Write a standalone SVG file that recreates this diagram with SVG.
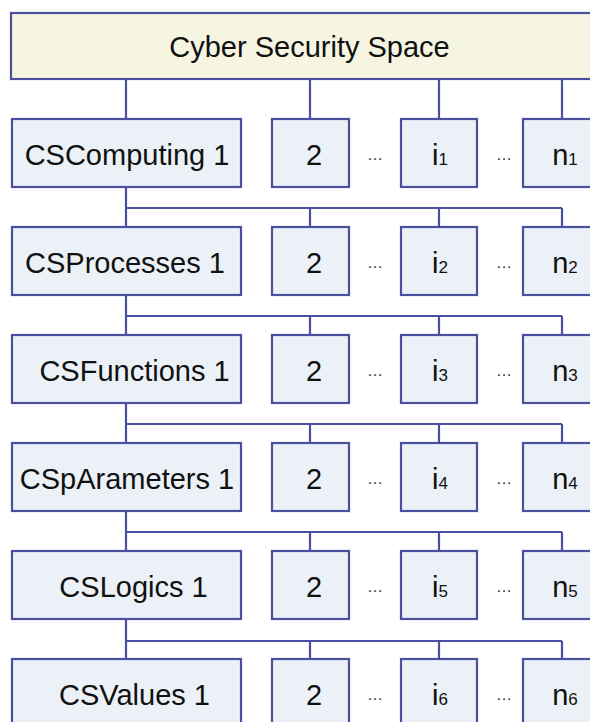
<svg xmlns="http://www.w3.org/2000/svg" width="590" height="722" viewBox="0 0 590 722">
<style>
.box{fill:#EBF1F6;stroke:#4B4F9F;stroke-width:2.2}
.title{fill:#F5F5E2;stroke:#4B4F9F;stroke-width:2.2}
.t{font-family:"Liberation Sans",Arial,sans-serif;font-size:29px;fill:#111;text-anchor:middle}
.s{font-size:17px}
.d{font-family:"Liberation Sans",Arial,sans-serif;font-size:16px;fill:#333;text-anchor:middle}
.c{fill:none;stroke:#4B4F9F;stroke-width:2.2}
</style>
<rect width="590" height="722" fill="#fff"/>
<g id="connectors">
<path class="c" d="M126,79V119M310,79V119M439,79V119M562,79V119"/>
<path class="c" d="M126,187V227M126,208H562M310,208V227M439,208V227M562,208V227"/>
<path class="c" d="M126,295V335M126,316H562M310,316V335M439,316V335M562,316V335"/>
<path class="c" d="M126,403V443M126,424H562M310,424V443M439,424V443M562,424V443"/>
<path class="c" d="M126,511V551M126,532H562M310,532V551M439,532V551M562,532V551"/>
<path class="c" d="M126,619V659M126,641H562M310,641V659M439,641V659M562,641V659"/>
</g>
<g id="space"><rect class="title" x="11" y="13" width="600" height="66"/><text class="t" x="309.5" y="57">Cyber Security Space</text></g>

<g id="r1c1"><rect class="box" x="12" y="119" width="229" height="68"/><text class="t" x="127" y="165">CSComputing 1</text></g>
<g id="r1c2"><rect class="box" x="272" y="119" width="77" height="68"/><text class="t" x="314" y="165">2</text></g>
<text class="d" x="375" y="160">…</text>
<g id="r1ci"><rect class="box" x="401" y="119" width="76" height="68"/><text class="t" x="440" y="165">i<tspan class="s">1</tspan></text></g>
<text class="d" x="504" y="160">…</text>
<g id="r1cn"><rect class="box" x="523" y="119" width="77" height="68"/><text class="t" x="565" y="165">n<tspan class="s">1</tspan></text></g>

<g id="r2c1"><rect class="box" x="12" y="227" width="229" height="68"/><text class="t" x="125" y="273">CSProcesses 1</text></g>
<g id="r2c2"><rect class="box" x="272" y="227" width="77" height="68"/><text class="t" x="314" y="273">2</text></g>
<text class="d" x="375" y="268">…</text>
<g id="r2ci"><rect class="box" x="401" y="227" width="76" height="68"/><text class="t" x="440" y="273">i<tspan class="s">2</tspan></text></g>
<text class="d" x="504" y="268">…</text>
<g id="r2cn"><rect class="box" x="523" y="227" width="77" height="68"/><text class="t" x="565" y="273">n<tspan class="s">2</tspan></text></g>

<g id="r3c1"><rect class="box" x="12" y="335" width="229" height="68"/><text class="t" x="134.5" y="381">CSFunctions 1</text></g>
<g id="r3c2"><rect class="box" x="272" y="335" width="77" height="68"/><text class="t" x="314" y="381">2</text></g>
<text class="d" x="375" y="376">…</text>
<g id="r3ci"><rect class="box" x="401" y="335" width="76" height="68"/><text class="t" x="440" y="381">i<tspan class="s">3</tspan></text></g>
<text class="d" x="504" y="376">…</text>
<g id="r3cn"><rect class="box" x="523" y="335" width="77" height="68"/><text class="t" x="565" y="381">n<tspan class="s">3</tspan></text></g>

<g id="r4c1"><rect class="box" x="12" y="443" width="229" height="68"/><text class="t" x="127" y="489">CSpArameters 1</text></g>
<g id="r4c2"><rect class="box" x="272" y="443" width="77" height="68"/><text class="t" x="314" y="489">2</text></g>
<text class="d" x="375" y="484">…</text>
<g id="r4ci"><rect class="box" x="401" y="443" width="76" height="68"/><text class="t" x="440" y="489">i<tspan class="s">4</tspan></text></g>
<text class="d" x="504" y="484">…</text>
<g id="r4cn"><rect class="box" x="523" y="443" width="77" height="68"/><text class="t" x="565" y="489">n<tspan class="s">4</tspan></text></g>

<g id="r5c1"><rect class="box" x="12" y="551" width="229" height="68"/><text class="t" x="133.5" y="597">CSLogics 1</text></g>
<g id="r5c2"><rect class="box" x="272" y="551" width="77" height="68"/><text class="t" x="314" y="597">2</text></g>
<text class="d" x="375" y="592">…</text>
<g id="r5ci"><rect class="box" x="401" y="551" width="76" height="68"/><text class="t" x="440" y="597">i<tspan class="s">5</tspan></text></g>
<text class="d" x="504" y="592">…</text>
<g id="r5cn"><rect class="box" x="523" y="551" width="77" height="68"/><text class="t" x="565" y="597">n<tspan class="s">5</tspan></text></g>

<g id="r6c1"><rect class="box" x="12" y="659" width="229" height="68"/><text class="t" x="134.5" y="705">CSValues 1</text></g>
<g id="r6c2"><rect class="box" x="272" y="659" width="77" height="68"/><text class="t" x="314" y="705">2</text></g>
<text class="d" x="375" y="700">…</text>
<g id="r6ci"><rect class="box" x="401" y="659" width="76" height="68"/><text class="t" x="440" y="705">i<tspan class="s">6</tspan></text></g>
<text class="d" x="504" y="700">…</text>
<g id="r6cn"><rect class="box" x="523" y="659" width="77" height="68"/><text class="t" x="565" y="705">n<tspan class="s">6</tspan></text></g>
</svg>
